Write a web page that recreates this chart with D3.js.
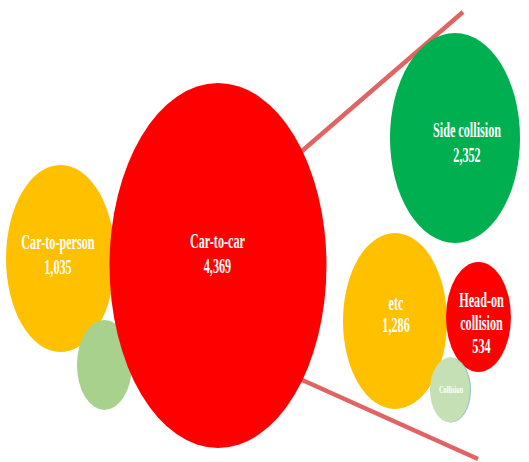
<!DOCTYPE html>
<html>
<head>
<meta charset="utf-8">
<script src="https://cdn.jsdelivr.net/npm/d3@7"></script>
<style>
  html, body { margin: 0; padding: 0; background: #ffffff; }
  svg { display: block; }
</style>
</head>
<body>
<svg id="chart" width="529" height="462"></svg>
<script>
// Crash types and counts
const categories = ["Car-to-person", "", "Car-to-car", "Side collision", "etc", "Head-on collision", "Collision"];
const values     = [1035, null, 4369, 2352, 1286, 534, null];
// Lines of each bubble's caption (the count is appended below them)
const captions   = [["Car-to-person"], [], ["Car-to-car"], ["Side collision"], ["etc"], ["Head-on", "collision"], ["Collision"]];
const colors     = ["#ffc000", "#a9d18e", "#ff0000", "#00b050", "#ffc000", "#ff0000", "#c5e0b4"];

// Bubble layout, in percent of the drawing area
const centerX = [11.44, 19.75, 41.21, 86.01, 74.67, 90.45, 85.07];
const centerY = [55.95, 79.00, 57.47, 29.87, 69.48, 68.61, 84.42];
const radiusX = [10.30,  5.20, 20.51, 12.29,  9.83,  6.14,  3.78];
const radiusY = [20.24,  9.74, 39.50, 22.73, 19.05, 11.90,  7.03];
// Caption anchor (first baseline), in percent, and line spacing / font size in px
const labelX  = [10.96, 0, 41.11, 88.28, 74.86, 91.02, 85.26];
const labelY  = [53.90, 0, 53.68, 29.65, 67.10, 66.45, 85.06];
const lineGap = [24.5, 0, 25, 25, 22, 23, 0];
const fontPx  = [20, 0, 20, 20, 20, 20, 10.5];

// Connector lines from the big bubble out to the breakdown
const connectorX1 = [57.09, 56.71];
const connectorY1 = [32.68, 82.03];
const connectorX2 = [87.52, 90.36];
const connectorY2 = [2.60, 99.35];

const width = 529, height = 462;
const x = d3.scaleLinear().domain([0, 100]).range([0, width]);
const y = d3.scaleLinear().domain([0, 100]).range([0, height]);
const fmt = d3.format(",");

const svg = d3.select("#chart");

const bubbles = categories.map((name, i) => ({
  name, value: values[i], lines: captions[i], color: colors[i],
  cx: centerX[i], cy: centerY[i], rx: radiusX[i], ry: radiusY[i],
  lx: labelX[i], ly: labelY[i], gap: lineGap[i], size: fontPx[i]
}));

// connectors sit beneath the bubbles
svg.append("g").selectAll("line")
  .data(connectorX1.map((v, i) => i))
  .join("line")
  .attr("x1", i => x(connectorX1[i]))
  .attr("y1", i => y(connectorY1[i]))
  .attr("x2", i => x(connectorX2[i]))
  .attr("y2", i => y(connectorY2[i]))
  .attr("stroke", "#e06463")
  .attr("stroke-width", 4.5)
  .attr("stroke-linecap", "butt");

const g = svg.append("g");

// faint rim on the smallest bubble
const small = bubbles[bubbles.length - 1];

bubbles.forEach(b => {
  if (b === small) {
    g.append("ellipse")
      .attr("cx", x(b.cx) + 1)
      .attr("cy", y(b.cy))
      .attr("rx", x(b.rx))
      .attr("ry", y(b.ry))
      .attr("fill", "#8cc0c4");
  }
  g.append("ellipse")
    .attr("cx", x(b.cx))
    .attr("cy", y(b.cy))
    .attr("rx", x(b.rx))
    .attr("ry", y(b.ry))
    .attr("fill", b.color);
});

// captions, set in a narrow bold serif
const squeeze = 0.61;
bubbles.forEach(b => {
  const rows = b.lines.slice();
  if (b.value != null) rows.push(fmt(b.value));
  if (!rows.length) return;
  const cx = x(b.lx);
  const t = svg.append("g")
    .attr("transform", `translate(${cx},0) scale(${squeeze},1)`);
  rows.forEach((row, k) => {
    t.append("text")
      .attr("x", 0)
      .attr("y", y(b.ly) + k * b.gap)
      .attr("text-anchor", "middle")
      .attr("font-family", "'Liberation Serif', 'Times New Roman', serif")
      .attr("font-weight", "bold")
      .attr("font-size", b.size)
      .attr("fill", "#ffffff")
      .text(row);
  });
});
</script>
</body>
</html>
